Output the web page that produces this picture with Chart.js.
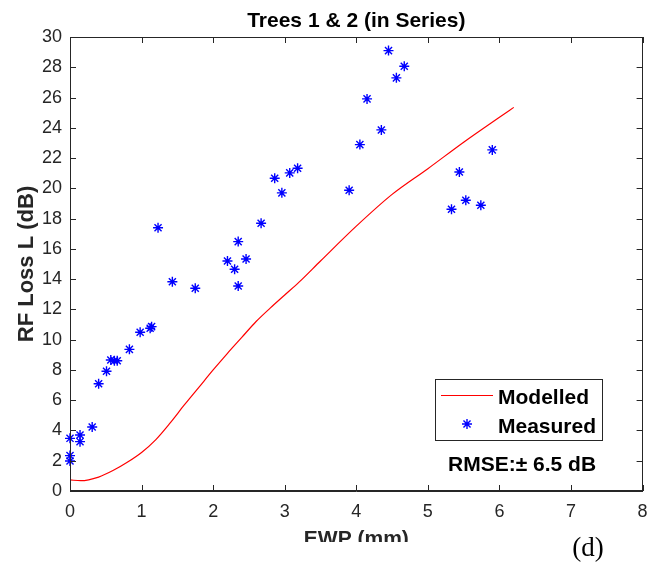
<!DOCTYPE html>
<html>
<head>
<meta charset="utf-8">
<script src="https://cdn.jsdelivr.net/npm/chart.js@4/dist/chart.umd.min.js"></script>
<style>
    html, body { margin: 0; padding: 0; background: #fff; }
    #graph { display: block; }
</style>
</head>
<body>
<canvas id="graph" width="649" height="566"></canvas>
<script>
// modelled curve
const modelX = [0, 0.15, 0.4, 0.6, 0.8, 1.0, 1.2, 1.4, 1.6, 1.8, 2.0, 2.2, 2.4, 2.6, 2.8, 3.0, 3.2, 3.5, 4.0, 4.5, 5.0, 5.5, 6.0, 6.2];
const modelY = [0.73, 0.68, 0.92, 1.35, 1.9, 2.55, 3.4, 4.5, 5.7, 6.85, 8.0, 9.1, 10.15, 11.2, 12.1, 12.95, 13.8, 15.2, 17.5, 19.6, 21.3, 23.05, 24.7, 25.35];

// measured points
const measX = [0, 0, 0, 0.14, 0.14, 0.31, 0.40, 0.51, 0.57, 0.62, 0.66, 0.83, 0.98, 1.12, 1.14,
    1.23, 1.43, 1.75, 2.20, 2.30, 2.35, 2.35, 2.46, 2.67, 2.86, 2.96, 3.07, 3.18,
    3.90, 4.05, 4.15, 4.35, 4.45, 4.56, 4.67, 5.33, 5.44, 5.53, 5.74, 5.90];
const measY = [3.48, 2.34, 1.98, 3.70, 3.26, 4.23, 7.09, 7.91, 8.66, 8.61, 8.61, 9.36, 10.49, 10.75, 10.86,
    17.40, 13.83, 13.40, 15.20, 14.65, 16.48, 13.55, 15.33, 17.69, 20.67, 19.70, 21.02, 21.33,
    19.87, 22.89, 25.91, 23.86, 29.10, 27.30, 28.07, 18.62, 21.08, 19.21, 18.88, 22.54];

const xTicks = [0, 8, 1];
const yTicks = [0, 30, 2];

const title = 'Trees 1 & 2 (in Series)';
const xTitle = 'EWP (mm)';
const yTitle = 'RF Loss L (dB)';
const seriesNames = ['Modelled', 'Measured'];
const note = 'RMSE:\u00b1 6.5 dB';
const panel = '(d)';

const axisColor = '#262626';
const sans = '"Liberation Sans", Arial, sans-serif';

const frame = {
    id: 'frame',
    afterDraw(chart) {
        const ctx = chart.ctx;
        const a = chart.chartArea;
        const xs = chart.scales.x;
        const ys = chart.scales.y;
        ctx.save();

        // box
        ctx.strokeStyle = axisColor;
        ctx.lineWidth = 1;
        ctx.strokeRect(Math.round(a.left) + 0.5, Math.round(a.top) + 0.5,
            Math.round(a.right - a.left) - 1, Math.round(a.bottom - a.top) - 1);

        // inner ticks on all sides
        const tl = 6;
        ctx.beginPath();
        xs.ticks.forEach(t => {
            const px = Math.round(xs.getPixelForValue(t.value)) + 0.5;
            ctx.moveTo(px, a.bottom);
            ctx.lineTo(px, a.bottom - tl);
            ctx.moveTo(px, a.top);
            ctx.lineTo(px, a.top + tl);
        });
        ys.ticks.forEach(t => {
            const py = Math.round(ys.getPixelForValue(t.value)) + 0.5;
            ctx.moveTo(a.left, py);
            ctx.lineTo(a.left + tl, py);
            ctx.moveTo(a.right, py);
            ctx.lineTo(a.right - tl, py);
        });
        ctx.stroke();

        // title
        const cx = (a.left + a.right) / 2;
        ctx.fillStyle = '#000';
        ctx.font = 'bold 21px ' + sans;
        ctx.textAlign = 'center';
        ctx.textBaseline = 'alphabetic';
        ctx.fillText(title, cx, 27);

        // y title
        ctx.save();
        ctx.translate(33, (a.top + a.bottom) / 2);
        ctx.rotate(-Math.PI / 2);
        ctx.font = 'bold 22px ' + sans;
        ctx.fillStyle = axisColor;
        ctx.fillText(yTitle, 0, 0);
        ctx.restore();

        // x title, cut off at the bottom like the source
        ctx.font = 'bold 21px ' + sans;
        ctx.fillStyle = axisColor;
        ctx.fillText(xTitle, cx, 545);
        ctx.fillStyle = '#fff';
        ctx.fillRect(0, 542, chart.width, chart.height - 542);

        ctx.fillStyle = '#000';
        ctx.font = '27px "Liberation Serif", "Times New Roman", serif';
        ctx.fillText(panel, 588, 556);

        // legend
        const lx = 435.5, ly = 379.5, lw = 167, lh = 61;
        ctx.fillStyle = '#fff';
        ctx.fillRect(lx, ly, lw, lh);
        ctx.strokeStyle = axisColor;
        ctx.strokeRect(lx, ly, lw, lh);

        const ds = chart.data.datasets;
        ctx.strokeStyle = ds[0].borderColor;
        ctx.lineWidth = 1.2;
        ctx.beginPath();
        ctx.moveTo(441, 395.5);
        ctx.lineTo(493, 395.5);
        ctx.stroke();

        ctx.strokeStyle = ds[1].borderColor;
        ctx.fillStyle = ds[1].borderColor;
        ctx.lineWidth = 1.4;
        Chart.helpers.drawPoint(ctx, {pointStyle: 'star', radius: 5, borderWidth: 1.4}, 467, 424);

        ctx.fillStyle = '#000';
        ctx.font = 'bold 21px ' + sans;
        ctx.textAlign = 'left';
        ctx.fillText(seriesNames[0], 498, 404);
        ctx.fillText(seriesNames[1], 498, 433);

        ctx.fillText(note, 448, 471);

        ctx.restore();
    }
};

const chart = new Chart(document.getElementById('graph'), {
    type: 'scatter',
    data: {
        datasets: [{
            label: seriesNames[0],
            data: modelX.map((x, i) => ({x: x, y: modelY[i]})),
            showLine: true,
            borderColor: '#ff0000',
            borderWidth: 1.2,
            pointRadius: 0,
            cubicInterpolationMode: 'monotone'
        }, {
            label: seriesNames[1],
            data: measX.map((x, i) => ({x: x, y: measY[i]})),
            showLine: false,
            pointStyle: 'star',
            pointRadius: 5,
            borderColor: '#0000ff',
            backgroundColor: '#0000ff',
            borderWidth: 1.4,
            clip: false
        }]
    },
    options: {
        responsive: false,
        animation: false,
        layout: {padding: {top: 37, left: 0, right: 0, bottom: 0}},
        plugins: {
            legend: {display: false},
            title: {display: false},
            tooltip: {enabled: false}
        },
        scales: {
            x: {
                type: 'linear',
                min: xTicks[0],
                max: xTicks[1],
                ticks: {stepSize: xTicks[2], color: axisColor, font: {family: sans, size: 18}, padding: 10},
                grid: {drawOnChartArea: false, drawTicks: false},
                border: {color: axisColor},
                afterFit: s => { s.height = 75; s.paddingRight = 5; s.paddingLeft = 0; }
            },
            y: {
                type: 'linear',
                min: yTicks[0],
                max: yTicks[1],
                ticks: {stepSize: yTicks[2], color: axisColor, font: {family: sans, size: 18}, padding: 8},
                grid: {drawOnChartArea: false, drawTicks: false},
                border: {color: axisColor},
                afterFit: s => { s.width = 70; }
            }
        }
    },
    plugins: [frame]
});
</script>
</body>
</html>
